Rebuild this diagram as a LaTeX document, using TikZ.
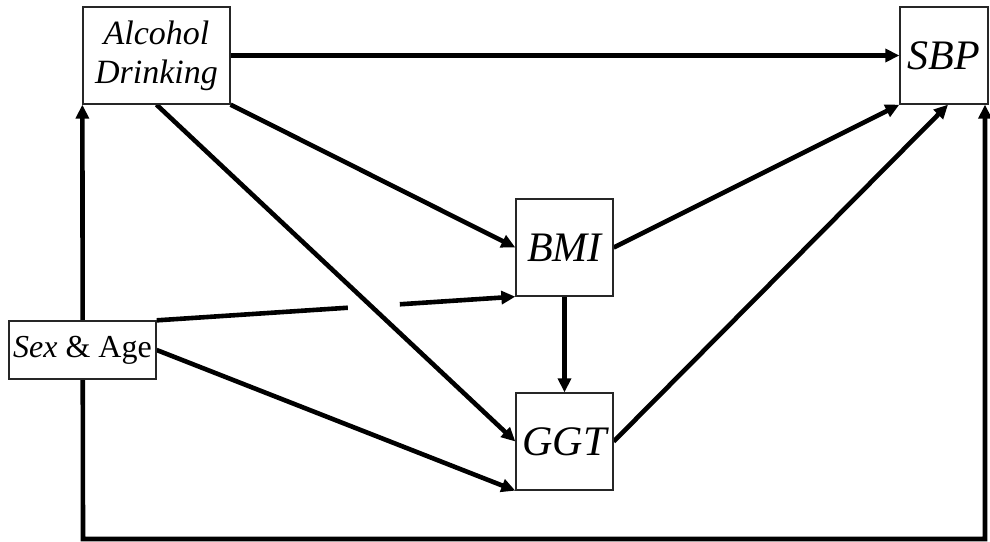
\documentclass[tikz,border=0pt]{standalone}
\usepackage{fontspec}
\setmainfont{Liberation Serif}
\usetikzlibrary{arrows.meta,calc,backgrounds}
\begin{document}
\begin{tikzpicture}[x=1pt,y=-1pt,
  box/.style={draw=black!85,line width=1.3pt,fill=white,rectangle,inner sep=0pt,align=center},
  arr/.style={line width=4.6pt,-{Triangle[length=14pt,width=13pt]}},
  ln/.style={line width=4.6pt}]
\useasboundingbox (0,0) rectangle (990,541);
\node[box,minimum width=147pt,minimum height=97pt,font=\fontsize{34}{39}\selectfont\itshape] (alc) at (156.5,55.5) {Alcohol\\Drinking};
\node[box,minimum width=88pt,minimum height=97pt,font=\fontsize{42}{48}\selectfont\itshape] (sbp) at (944,55.5) {SBP};
\node[box,minimum width=147pt,minimum height=58pt,font=\fontsize{32}{38}\selectfont] (sex) at (82.5,350) {\textit{Sex} \& Age};
\node[box,minimum width=97pt,minimum height=97pt,font=\fontsize{42}{48}\selectfont\itshape] (bmi) at (564.5,247.5) {BMI};
\node[box,minimum width=97pt,minimum height=97pt,font=\fontsize{42}{48}\selectfont\itshape] (ggt) at (564.5,441.5) {GGT};
\coordinate (b1) at (83,539);
\coordinate (b2) at (985,539);
\begin{scope}[on background layer]
\draw[arr] (alc.east) -- (sbp.west);
\draw[arr] (alc.south east) -- (bmi.west);
\draw[arr] (alc.south) -- (ggt.west);
\draw[ln] (sex.north east) -- ($(sex.north east)!0.533!(bmi.south west)$);
\draw[arr] ($(sex.north east)!0.678!(bmi.south west)$) -- (bmi.south west);
\draw[arr] (sex.east) -- (ggt.south west);
\draw[arr] (bmi.south) -- (ggt.north);
\draw[arr] (bmi.east) -- (sbp.south west);
\draw[arr] (ggt.east) -- ($(sbp.south)+(4,0)$);
\draw[line width=4.6pt,{Triangle[length=14pt,width=13pt]}-{Triangle[length=14pt,width=13pt]}] (alc.south west) -- (b1) -- (b2) -- (b2 |- sbp.south);
\end{scope}
\end{tikzpicture}
\end{document}
